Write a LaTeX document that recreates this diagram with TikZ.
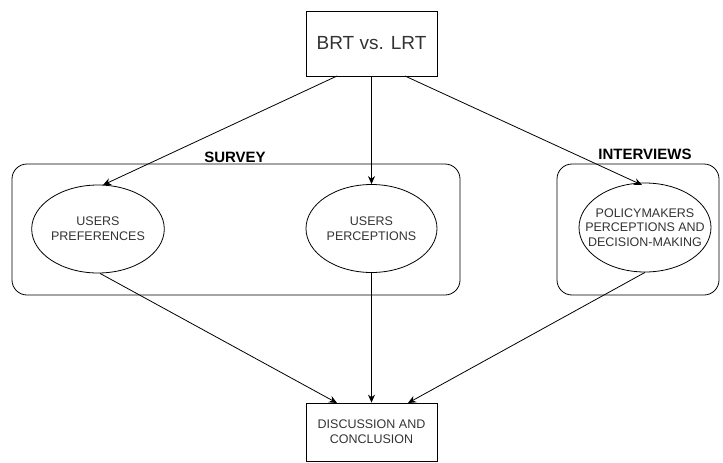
\documentclass[tikz,border=0pt]{standalone}
\usepackage{fontspec}
\setmainfont{Liberation Sans}
\usetikzlibrary{shapes.geometric,arrows.meta}
\begin{document}
\begin{tikzpicture}[x=1pt,y=-1pt,
  boxst/.style={draw,line width=0.8pt,rectangle,inner sep=0pt},
  smalltext/.style={font=\fontsize{12.5}{14.8}\selectfont,text=black!80},
  ellst/.style={draw,line width=0.8pt,ellipse,inner sep=0pt,minimum width=131pt,minimum height=88pt,align=center,smalltext},
  groupst/.style={draw,line width=0.8pt,rounded corners=15pt},
  labelst/.style={font=\bfseries\fontsize{15}{17}\selectfont,anchor=base},
  arr/.style={-{Stealth[length=8pt,width=7pt]},line width=0.8pt}]
\useasboundingbox (0,0) rectangle (723,463);
\node[boxst,minimum width=131pt,minimum height=65pt,font=\fontsize{19}{22}\selectfont,text=black!80] (top) at (371.5,43.5) {BRT vs. LRT};
\draw[groupst] (12,164) rectangle (460,295);
\draw[groupst] (557,164) rectangle (719,295);
\node[labelst] (survey) at (235,162) {SURVEY};
\node[labelst] (interviews) at (645,159) {INTERVIEWS};
\node[ellst] (e1) at (98,229) {USERS\\PREFERENCES};
\node[ellst] (e2) at (371.5,228.5) {USERS\\PERCEPTIONS};
\node[ellst,minimum width=132pt,minimum height=89pt] (e3) at (645,227.5) {};
\node[align=center,smalltext,inner sep=0pt] (e3t) at (e3.center) {POLICYMAKERS\\PERCEPTIONS AND\\DECISION-MAKING};
\node[boxst,minimum width=131pt,minimum height=58pt,align=center,smalltext] (bot) at (371.5,432) {DISCUSSION AND\\CONCLUSION};
\coordinate (t1) at (337,76);
\coordinate (t3) at (405,76);
\coordinate (h1) at (103,185);
\coordinate (h3) at (642,185);
\coordinate (b1) at (337,403);
\coordinate (b3) at (408,403);
\draw[arr] (t1) -- (h1);
\draw[arr] (top.south) -- (e2.north);
\draw[arr] (t3) -- (h3);
\draw[arr] (e1.south) ++(2,0) -- (b1);
\draw[arr] (e2.south) -- (bot.north);
\draw[arr] (e3.south) -- (b3);
\end{tikzpicture}
\end{document}
